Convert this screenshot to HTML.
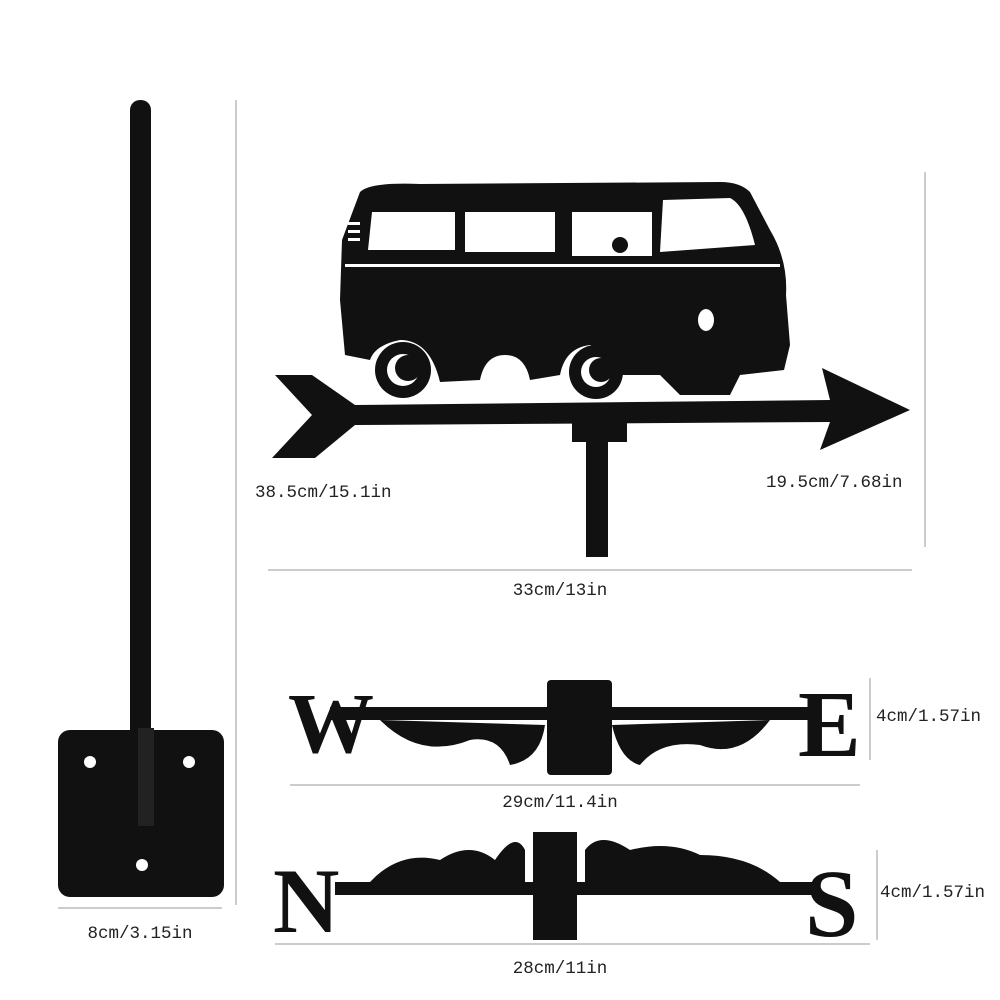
<!DOCTYPE html>
<html><head><meta charset="utf-8"><style>
html,body{margin:0;padding:0;background:#fff}
svg{display:block}
text.l{font-family:"Liberation Mono",monospace;font-size:17.5px;fill:#222}
text.b{font-family:"Liberation Serif",serif;font-weight:bold;fill:#111}
</style></head><body>
<svg width="1000" height="1000" viewBox="0 0 1000 1000" xmlns="http://www.w3.org/2000/svg">
<rect width="1000" height="1000" fill="#fff"/>
<!-- pole -->
<rect x="130" y="100" width="21" height="725" rx="10" fill="#111"/>
<rect x="58" y="730" width="166" height="167" rx="12" fill="#111"/>
<rect x="138" y="728" width="16" height="98" fill="#222"/>
<circle cx="90" cy="762" r="6" fill="#fff"/><circle cx="189" cy="762" r="6" fill="#fff"/><circle cx="142" cy="865" r="6" fill="#fff"/>
<line x1="236" y1="100" x2="236" y2="905" stroke="#999" stroke-width="1"/>
<line x1="58" y1="908" x2="222" y2="908" stroke="#999" stroke-width="1"/>
<text class="l" x="140" y="938" text-anchor="middle">8cm/3.15in</text>

<!-- van -->
<path d="M360 192 Q370 182 420 184 L720 182 Q740 182 750 192 L770 230 Q788 260 786 295 L790 345 L784 370 L740 375 L730 395 L680 395 L660 375 L620 375 Q610 350 590 345 Q565 348 560 375 L530 380 Q525 355 505 355 Q485 355 480 380 L440 382 Q430 340 400 340 Q375 345 370 360 L345 355 L340 300 L342 240 Z" fill="#111"/>
<g fill="#fff">
<path d="M372 212 L455 212 L455 250 L368 250 Z"/>
<rect x="465" y="212" width="90" height="40"/>
<rect x="572" y="212" width="80" height="44"/>
<path d="M663 200 L730 198 Q745 205 755 245 L660 252 Z"/>
<rect x="348" y="222" width="12" height="3"/><rect x="348" y="230" width="12" height="3"/><rect x="348" y="238" width="12" height="3"/>
<ellipse cx="706" cy="320" rx="8" ry="11"/>
<rect x="345" y="264" width="435" height="3"/>
</g>
<circle cx="620" cy="245" r="8" fill="#111"/>
<circle cx="403" cy="370" r="28" fill="#111"/><circle cx="403" cy="370" r="16" fill="#fff"/><circle cx="408" cy="368" r="13" fill="#111"/>
<circle cx="596" cy="372" r="27" fill="#111"/><circle cx="596" cy="372" r="15" fill="#fff"/><circle cx="601" cy="370" r="12" fill="#111"/>
<!-- arrow -->
<path d="M275 375 L312 375 L355 405 L830 400 L822 368 L910 410 L820 450 L830 422 L355 425 L315 458 L272 458 L312 415 Z" fill="#111"/>
<rect x="572" y="420" width="55" height="22" fill="#111"/>
<rect x="586" y="440" width="22" height="117" fill="#111"/>
<line x1="268" y1="570" x2="912" y2="570" stroke="#999" stroke-width="1"/>
<line x1="925" y1="172" x2="925" y2="547" stroke="#999" stroke-width="1"/>
<text class="l" x="255" y="497">38.5cm/15.1in</text>
<text class="l" x="766" y="487">19.5cm/7.68in</text>
<text class="l" x="560" y="595" text-anchor="middle">33cm/13in</text>

<!-- W E -->
<rect x="330" y="707" width="480" height="13" fill="#111"/>
<text class="b" x="288" y="752" style="font-size:86px">W</text>
<text class="b" x="798" y="756" style="font-size:94px">E</text>
<path d="M380 720 Q420 760 470 740 Q500 735 510 765 Q540 760 545 725 Z" fill="#111"/>
<path d="M612 725 Q620 760 640 765 Q660 740 700 745 Q740 760 770 720 Z" fill="#111"/>
<rect x="547" y="680" width="65" height="95" rx="4" fill="#111"/>
<line x1="290" y1="785" x2="860" y2="785" stroke="#999" stroke-width="1"/>
<line x1="870" y1="678" x2="870" y2="760" stroke="#999" stroke-width="1"/>
<text class="l" x="560" y="807" text-anchor="middle">29cm/11.4in</text>
<text class="l" x="876" y="721">4cm/1.57in</text>

<!-- N S -->
<rect x="335" y="882" width="480" height="13" fill="#111"/>
<text class="b" x="273" y="932" style="font-size:92px">N</text>
<text class="b" x="805" y="936" style="font-size:96px">S</text>
<path d="M370 882 Q400 850 440 860 Q470 840 495 860 Q515 830 525 850 L525 882 Z" fill="#111"/>
<path d="M585 882 L585 850 Q600 830 630 850 Q670 840 700 855 Q750 855 780 882 Z" fill="#111"/>
<rect x="533" y="832" width="44" height="108" fill="#111"/>
<line x1="275" y1="944" x2="870" y2="944" stroke="#999" stroke-width="1"/>
<line x1="877" y1="850" x2="877" y2="940" stroke="#999" stroke-width="1"/>
<text class="l" x="560" y="973" text-anchor="middle">28cm/11in</text>
<text class="l" x="880" y="897">4cm/1.57in</text>
</svg>
</body></html>
